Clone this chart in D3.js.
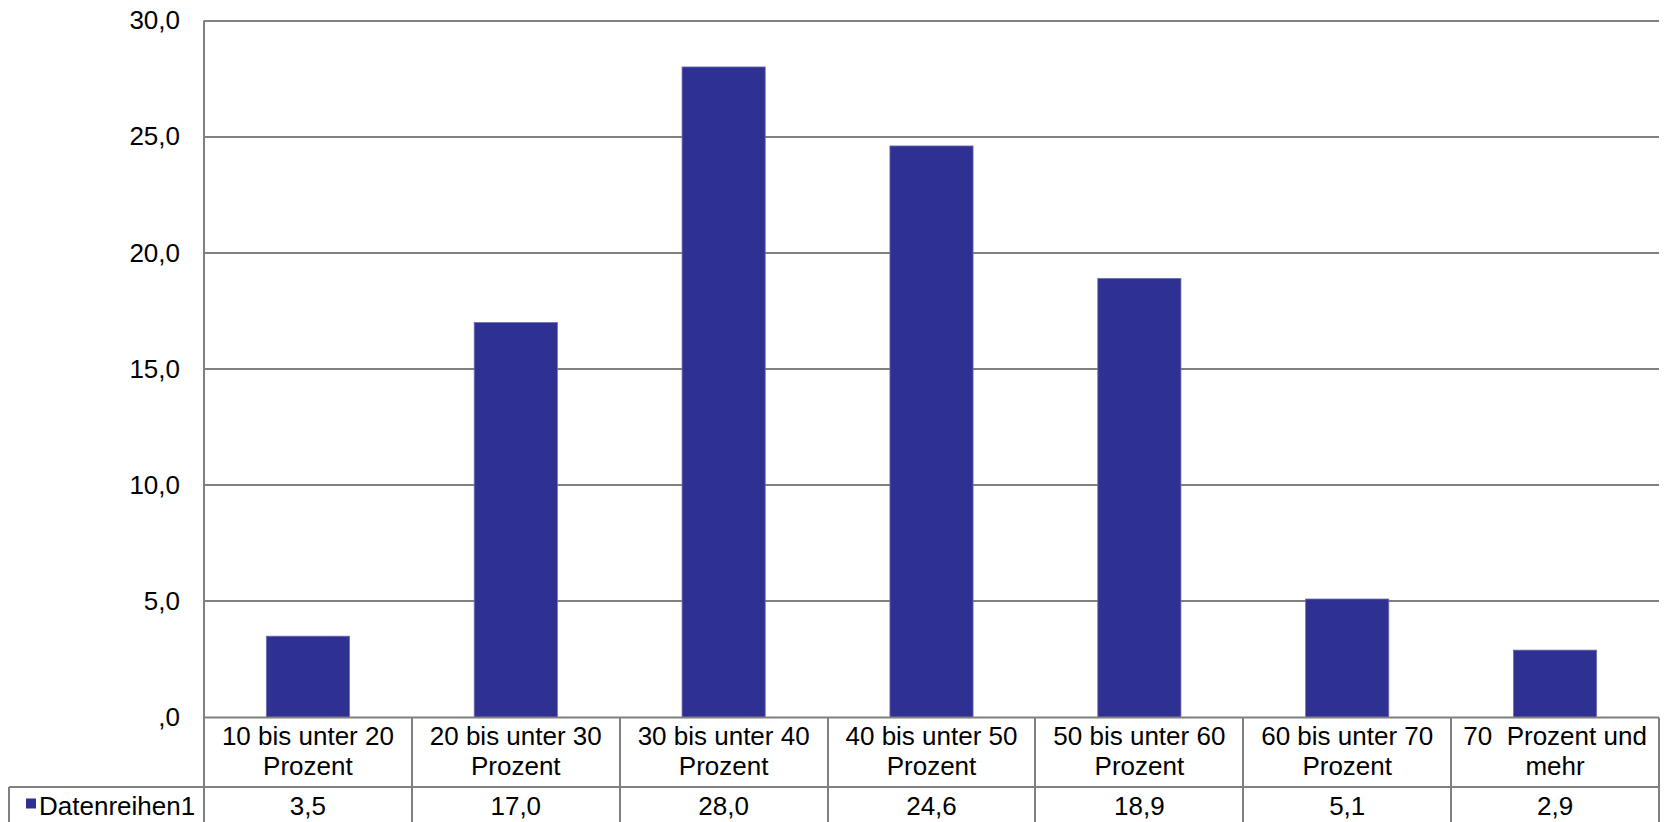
<!DOCTYPE html>
<html lang="de">
<head>
<meta charset="utf-8">
<script src="https://cdn.jsdelivr.net/npm/d3@7"></script>
<style>
  html, body { margin: 0; padding: 0; background: #fff; }
  svg { display: block; }
  text { font-family: "Liberation Sans", Arial, Helvetica, sans-serif; fill: #000; }
</style>
</head>
<body>
<svg id="chart" width="1665" height="822"></svg>
<script>
// Kategorien (zweizeilige Beschriftung)
const categories = [
  "10 bis unter 20 Prozent",
  "20 bis unter 30 Prozent",
  "30 bis unter 40 Prozent",
  "40 bis unter 50 Prozent",
  "50 bis unter 60 Prozent",
  "60 bis unter 70 Prozent",
  "70  Prozent und mehr"
];
const categoryLines = [
  ["10 bis unter 20", "Prozent"],
  ["20 bis unter 30", "Prozent"],
  ["30 bis unter 40", "Prozent"],
  ["40 bis unter 50", "Prozent"],
  ["50 bis unter 60", "Prozent"],
  ["60 bis unter 70", "Prozent"],
  ["70  Prozent und", "mehr"]
];
const seriesName = "Datenreihen1";
const values = [3.5, 17.0, 28.0, 24.6, 18.9, 5.1, 2.9];
const yTicks = [0, 5, 10, 15, 20, 25, 30];

const barColor = "#2E3192";
const lineColor = "#808080";
const fontSize = 26;

const svg = d3.select("#chart");

const plot = { left: 204, right: 1659, top: 20.5, bottom: 717.5 };
const table = { legendLeft: 9, row1Bottom: 787, bottom: 823 };

// Deutsches Zahlenformat mit Dezimalkomma; Null als ",0"
const de = d3.formatLocale({ decimal: ",", thousands: ".", grouping: [3], currency: ["", " €"] });
const fmt1 = de.format(".1f");
const fmtTick = v => v === 0 ? ",0" : fmt1(v);

const y = d3.scaleLinear().domain([0, 30]).range([plot.bottom, plot.top]);
const xCell = d3.scaleBand().domain(categories).range([plot.left, plot.right]).padding(0);
const x = d3.scaleBand().domain(categories).range([plot.left, plot.right])
  .paddingInner(0.6).paddingOuter(0.3);

// Horizontale Gitterlinien
svg.append("g")
  .selectAll("line")
  .data(yTicks.filter(t => t > 0))
  .join("line")
  .attr("x1", plot.left).attr("x2", plot.right)
  .attr("y1", d => Math.round(y(d))).attr("y2", d => Math.round(y(d)))
  .attr("stroke", lineColor).attr("stroke-width", 2);

// Y-Achse mit Beschriftungen
const yAxis = d3.axisLeft(y).tickValues(yTicks).tickFormat(fmtTick).tickSize(0).tickPadding(24);
const gy = svg.append("g").attr("transform", `translate(${plot.left},0)`).call(yAxis);
gy.select(".domain").remove();
gy.selectAll("text")
  .attr("font-size", fontSize)
  .attr("font-family", '"Liberation Sans", Arial, sans-serif')
  .attr("fill", "#000");

// Balken
svg.append("g")
  .selectAll("rect")
  .data(values)
  .join("rect")
  .attr("x", (d, i) => x(categories[i]))
  .attr("width", x.bandwidth())
  .attr("y", d => y(d))
  .attr("height", d => y(0) - y(d))
  .attr("fill", barColor)
  .attr("stroke", "#6C6EB4")
  .attr("stroke-width", 0.8);

// Datentabelle unter dem Diagramm
const gt = svg.append("g");
const lines = [
  // Y-Achse bis zum Tabellenende
  [plot.left, plot.top, plot.left, table.bottom],
  // X-Achse / obere Tabellenkante
  [plot.left, plot.bottom, plot.right, plot.bottom],
  // Trennlinie zwischen Kategorie- und Wertezeile
  [table.legendLeft, table.row1Bottom, plot.right, table.row1Bottom],
  // Untere Tabellenkante
  [table.legendLeft, table.bottom, plot.right, table.bottom],
  // Linke Kante der Legendenzelle
  [table.legendLeft, table.row1Bottom, table.legendLeft, table.bottom]
];
categories.forEach(c => {
  const xr = Math.round(xCell(c) + xCell.bandwidth());
  lines.push([xr, plot.bottom, xr, table.bottom]);
});
gt.selectAll("line")
  .data(lines)
  .join("line")
  .attr("x1", d => d[0]).attr("y1", d => d[1])
  .attr("x2", d => d[2]).attr("y2", d => d[3])
  .attr("stroke", lineColor).attr("stroke-width", 2);

// Kategorie-Beschriftungen (zwei Zeilen)
const catText = gt.append("g")
  .selectAll("text")
  .data(categoryLines)
  .join("text")
  .attr("x", (d, i) => xCell(categories[i]) + xCell.bandwidth() / 2)
  .attr("y", 745)
  .attr("text-anchor", "middle")
  .attr("font-size", fontSize)
  .style("white-space", "pre");
catText.selectAll("tspan")
  .data(d => d)
  .join("tspan")
  .attr("x", function () { return d3.select(this.parentNode).attr("x"); })
  .attr("dy", (d, j) => j === 0 ? 0 : 30)
  .text(d => d);

// Werte-Zeile
gt.append("g")
  .selectAll("text")
  .data(values)
  .join("text")
  .attr("x", (d, i) => xCell(categories[i]) + xCell.bandwidth() / 2)
  .attr("y", 815)
  .attr("text-anchor", "middle")
  .attr("font-size", fontSize)
  .text(d => fmt1(d));

// Legendenzelle
gt.append("rect")
  .attr("x", 26).attr("y", 798.5)
  .attr("width", 10).attr("height", 10)
  .attr("fill", barColor);
gt.append("text")
  .attr("x", 39).attr("y", 815)
  .attr("font-size", fontSize)
  .text(seriesName);
</script>
</body>
</html>
